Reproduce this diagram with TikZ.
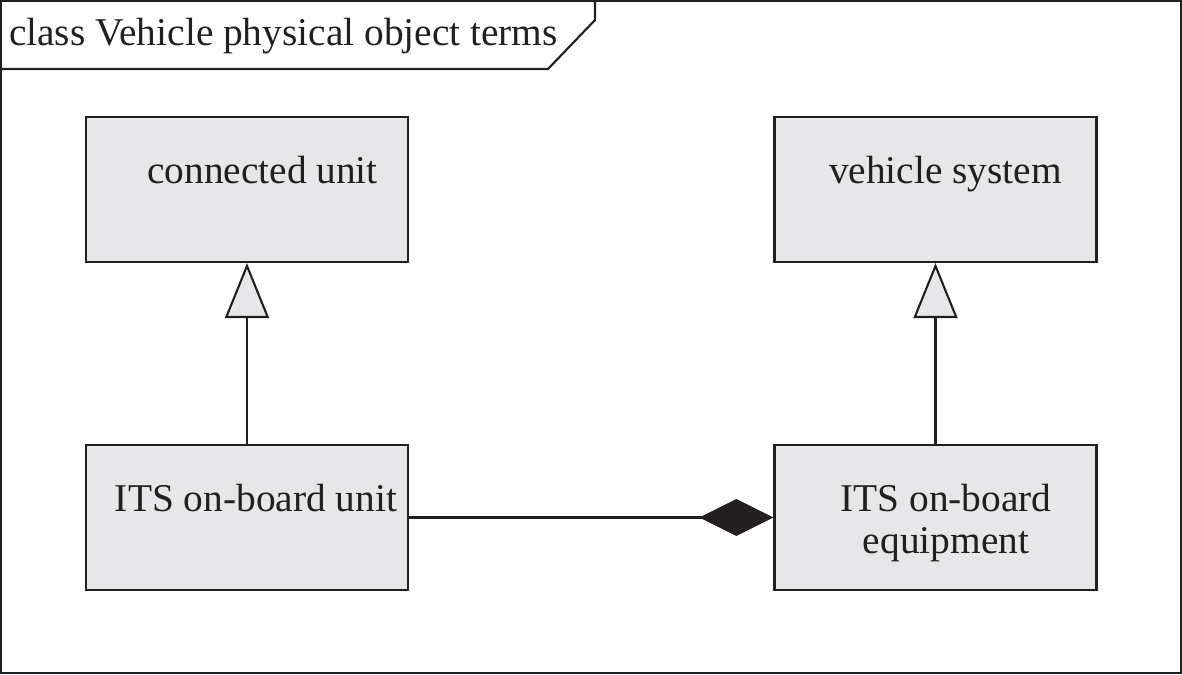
\documentclass[tikz,border=0pt]{standalone}
\usepackage{fontspec}
\setmainfont{Liberation Serif}
\usepackage{tikz}
\usetikzlibrary{arrows.meta, positioning}
\definecolor{umlfill}{HTML}{E6E7E8}
\definecolor{umlink}{HTML}{231F20}

\begin{document}
\begin{tikzpicture}[x=0.1mm, y=-0.1mm, line width=0.6pt, color=umlink,
  classbox/.style={draw=umlink, fill=umlfill, minimum width=32.2mm, minimum height=14.5mm, inner sep=0pt},
  term/.style={font=\fontsize{11.2}{11.9}\selectfont, text=umlink, align=center, anchor=base, inner sep=0pt},
  generalize/.style={-{Triangle[open, length=5.5mm, width=4.4mm, fill=umlfill]}},
  compose/.style={-{Diamond[length=7.4mm, width=3.7mm, fill=umlink]}}]
  \useasboundingbox (0,0) rectangle (1182,674);
  % --- frame with name tab ---
  \draw (1,1) rectangle (1181,673);
  \draw (1,69) -- (548,69) -- (595,20) -- (595,1);
  \node[term, anchor=base west] (title) at (8,45) {class Vehicle physical object terms};
  % --- classes ---
  \node[classbox] (cu)  at (247,189.5)   {};
  \node[classbox] (vs)  at (935.5,189.5) {};
  \node[classbox] (obu) at (247,517.5)   {};
  \node[classbox] (obe) at (935.5,517.5) {};
  \node[term] (cuname)  at (262.5,183) {connected unit};
  \node[term] (vsname)  at (945.5,183) {vehicle system};
  \node[term] (obuname) at (256,511)   {ITS on-board unit};
  \node[term] (obename) at (946,553)   {ITS on-board\\equipment};
  % --- relations ---
  \draw[generalize] (obu.north) -- (cu.south);
  \draw[generalize] (obe.north) -- (vs.south);
  \draw[compose] (obu.east) -- (obe.west);
\end{tikzpicture}
\end{document}
